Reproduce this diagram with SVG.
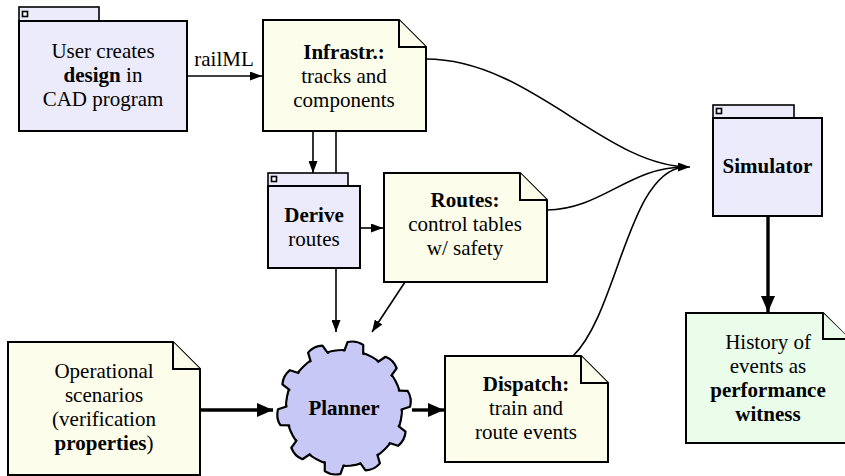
<svg xmlns="http://www.w3.org/2000/svg" xmlns:xlink="http://www.w3.org/1999/xlink" width="845" height="476" viewBox="0 0 845 476">
<style>
text{font-family:'Liberation Serif','Times New Roman',serif;font-size:21px;fill:#000;text-anchor:middle}
.b{font-weight:bold}
.proc{fill:#ebebfc;stroke:#000;stroke-width:2}
.tab{fill:#ebebfc;stroke:#000;stroke-width:1.6}
.ico{fill:#fff;stroke:#000;stroke-width:1.6}
.note{fill:#fdfdec;stroke:#000;stroke-width:2;stroke-linejoin:miter}
.hist{fill:#eafcea;stroke:#000;stroke-width:2}
.gear{fill:#c8c8f6;stroke:#000;stroke-width:2.2;stroke-linejoin:round}
.c{fill:none;stroke:#000;stroke-width:1.6}
.t{fill:none;stroke:#000;stroke-width:3.4}
</style>
<defs>
<marker id="ah" viewBox="0 0 12 9" refX="12" refY="4.5" markerWidth="12" markerHeight="9" markerUnits="userSpaceOnUse" orient="auto"><path d="M0,0 L12,4.5 L0,9 Z" fill="#000"/></marker>
<marker id="ahT" viewBox="0 0 16 14" refX="16" refY="7" markerWidth="16" markerHeight="14" markerUnits="userSpaceOnUse" orient="auto"><path d="M0,0 L16,7 L0,14 Z" fill="#000"/></marker>
<path id="tooth" d="M-10.5,-51 L-8,-65.5 Q0,-69 8,-65.5 L10.5,-51 Z"/>
</defs>
<rect x="0" y="0" width="845" height="476" fill="#fff"/>

<g id="connectors">
<line class="c" x1="187" y1="76" x2="262" y2="76" marker-end="url(#ah)"/>
<text x="224" y="66">railML</text>
<line class="c" x1="313" y1="131" x2="313" y2="173" marker-end="url(#ah)"/>
<line class="c" x1="336" y1="131" x2="336" y2="332" marker-end="url(#ah)"/>
<line class="c" x1="360" y1="228" x2="383" y2="228" marker-end="url(#ah)"/>
<line class="c" x1="405" y1="282" x2="372" y2="332" marker-end="url(#ah)"/>
<line class="t" x1="200" y1="410" x2="273" y2="410" marker-end="url(#ahT)"/>
<line class="t" x1="412" y1="410" x2="444" y2="410" marker-end="url(#ahT)"/>
<line class="t" x1="768" y1="216" x2="768" y2="312" marker-end="url(#ahT)"/>
<path class="c" d="M426,59 C530,59 605,167 690,167" marker-end="url(#ah)"/>
<path class="c" d="M547,210 C600,210 630,167 684,167"/>
<path class="c" d="M573,356 C618,312 628,172 684,167"/>
</g>

<g id="user">
<rect class="tab" x="19" y="7" width="80" height="14"/>
<rect class="ico" x="22.5" y="11.5" width="5" height="5"/>
<rect class="proc" x="19" y="21" width="168" height="110"/>
<text x="103" y="58">User creates</text>
<text x="103" y="82"><tspan class="b">design</tspan> in</text>
<text x="103" y="106">CAD program</text>
</g>

<g id="infra">
<path class="note" d="M263,20 H399 L426,47 V131 H263 Z"/>
<path class="note" d="M399,20 V47 H426"/>
<text x="344" y="59" class="b">Infrastr.:</text>
<text x="344" y="83">tracks and</text>
<text x="344" y="107">components</text>
</g>

<g id="derive">
<rect class="tab" x="268" y="173" width="80" height="13"/>
<rect class="ico" x="271.5" y="176.5" width="5" height="5"/>
<rect class="proc" x="268" y="186" width="92" height="82"/>
<text x="314" y="222" class="b">Derive</text>
<text x="314" y="246">routes</text>
</g>

<g id="routes">
<path class="note" d="M384,173 H520 L547,200 V282 H384 Z"/>
<path class="note" d="M520,173 V200 H547"/>
<text x="465" y="207" class="b">Routes:</text>
<text x="465" y="231">control tables</text>
<text x="465" y="255">w/ safety</text>
</g>

<g id="simulator">
<rect class="tab" x="713" y="105" width="81" height="13"/>
<rect class="ico" x="716.5" y="108.5" width="5" height="5"/>
<rect class="proc" x="713" y="118" width="109" height="98"/>
<text x="767.5" y="173" class="b">Simulator</text>
</g>

<g id="scenarios">
<path class="note" d="M8,342 H173 L200,369 V475 H8 Z"/>
<path class="note" d="M173,342 V369 H200"/>
<text x="104" y="378">Operational</text>
<text x="104" y="402">scenarios</text>
<text x="104" y="426">(verification</text>
<text x="104" y="450"><tspan class="b">properties</tspan>)</text>
</g>

<g id="planner">
<g transform="translate(344,408)">
<circle class="gear" r="58"/>
<use xlink:href="#tooth" class="gear" transform="rotate(10)"/>
<use xlink:href="#tooth" class="gear" transform="rotate(46)"/>
<use xlink:href="#tooth" class="gear" transform="rotate(82)"/>
<use xlink:href="#tooth" class="gear" transform="rotate(118)"/>
<use xlink:href="#tooth" class="gear" transform="rotate(154)"/>
<use xlink:href="#tooth" class="gear" transform="rotate(190)"/>
<use xlink:href="#tooth" class="gear" transform="rotate(226)"/>
<use xlink:href="#tooth" class="gear" transform="rotate(262)"/>
<use xlink:href="#tooth" class="gear" transform="rotate(298)"/>
<use xlink:href="#tooth" class="gear" transform="rotate(334)"/>
<circle r="56.6" fill="#c8c8f6"/>
</g>
<text x="344" y="415" class="b">Planner</text>
</g>

<g id="dispatch">
<path class="note" d="M445,356 H581 L608,383 V462 H445 Z"/>
<path class="note" d="M581,356 V383 H608"/>
<text x="526" y="391" class="b">Dispatch:</text>
<text x="526" y="415">train and</text>
<text x="526" y="439">route events</text>
</g>

<g id="history">
<path class="hist" d="M686,313 H823 L850,340 V443 H686 Z"/>
<path class="hist" d="M823,313 V339 H850"/>
<text x="768" y="349">History of</text>
<text x="768" y="373">events as</text>
<text x="768" y="397" class="b">performance</text>
<text x="768" y="421" class="b">witness</text>
</g>
</svg>
